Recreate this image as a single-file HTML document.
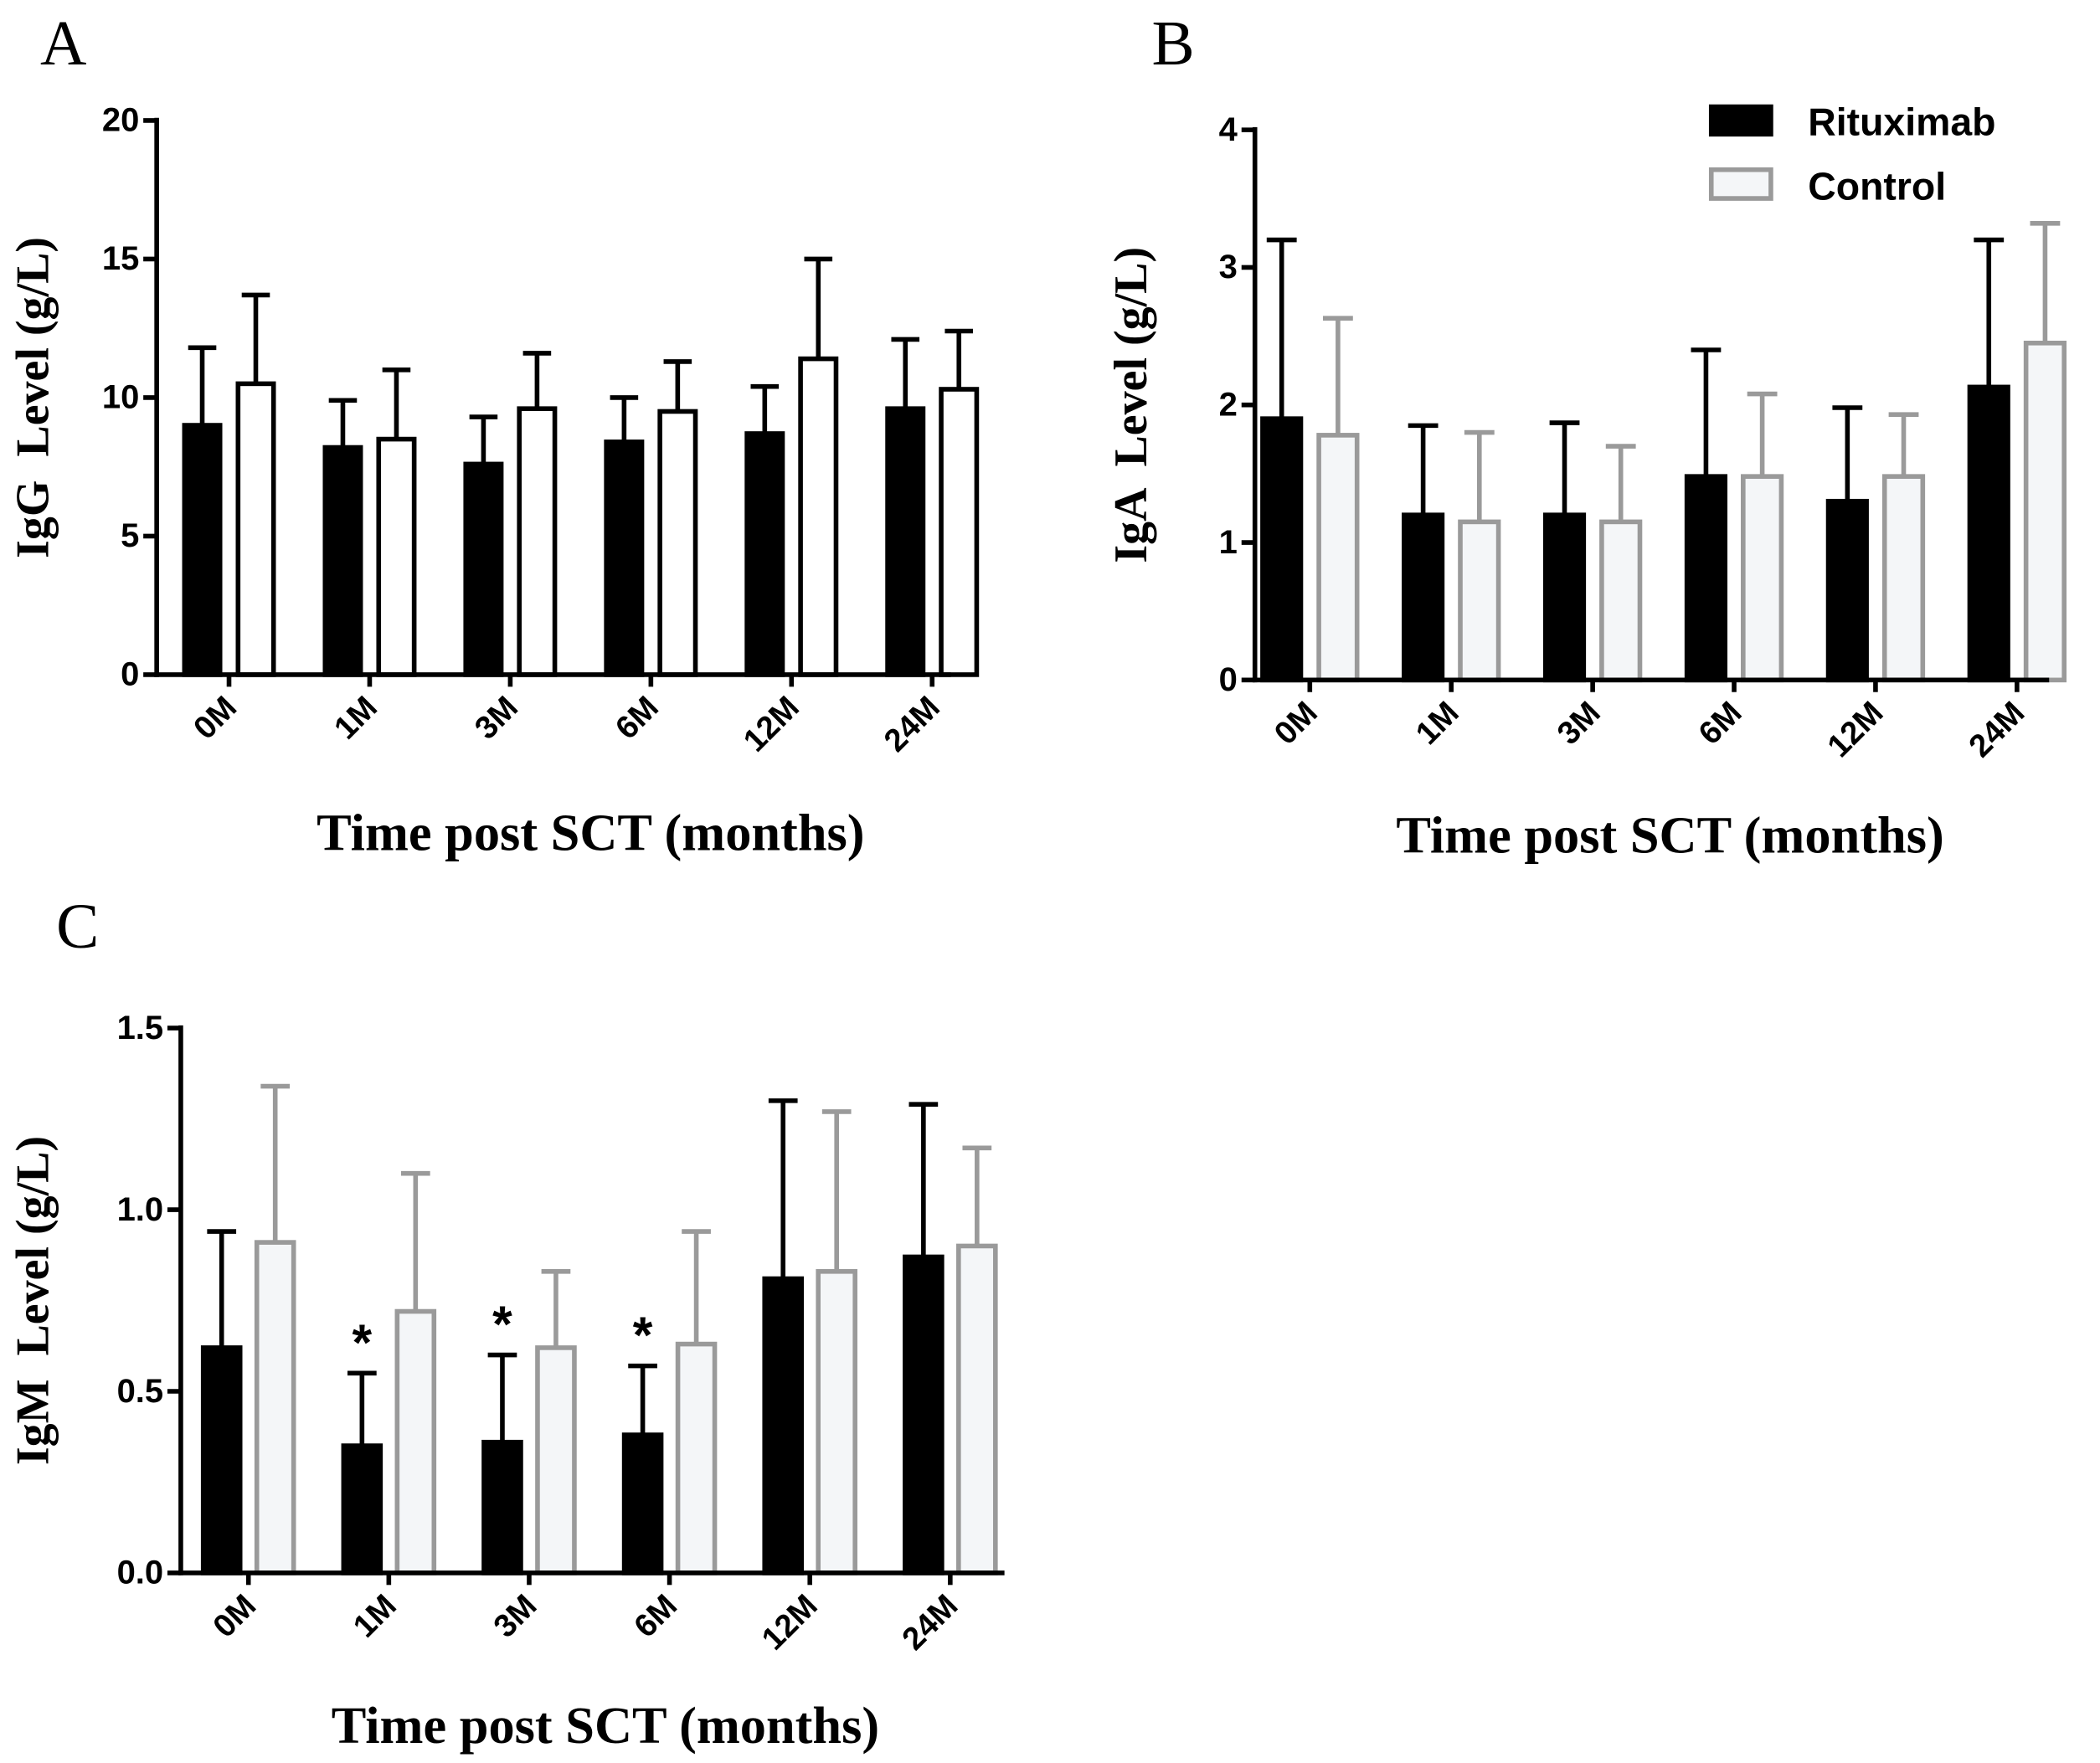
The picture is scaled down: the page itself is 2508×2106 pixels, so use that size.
<!DOCTYPE html>
<html><head><meta charset="utf-8"><style>
html,body{margin:0;padding:0;background:#fff;}
svg{display:block;}
text{white-space:pre;}
</style></head><body>
<svg id="fig" width="2508" height="2106" viewBox="0 0 1568 1317" preserveAspectRatio="none" xmlns="http://www.w3.org/2000/svg"></svg>
<script>
const categories = ["0M","1M","3M","6M","12M","24M"];
const iggRitux = [9.0, 8.2, 7.6, 8.4, 8.7, 9.6];
const iggRituxErr = [11.8, 9.9, 9.3, 10.0, 10.4, 12.1];
const iggCtrl = [10.5, 8.5, 9.6, 9.5, 11.4, 10.3];
const iggCtrlErr = [13.7, 11.0, 11.6, 11.3, 15.0, 12.4];
const igaRitux = [1.9, 1.2, 1.2, 1.48, 1.3, 2.13];
const igaRituxErr = [3.2, 1.85, 1.87, 2.4, 1.98, 3.2];
const igaCtrl = [1.78, 1.15, 1.15, 1.48, 1.48, 2.45];
const igaCtrlErr = [2.63, 1.8, 1.7, 2.08, 1.93, 3.32];
const igmRitux = [0.62, 0.35, 0.36, 0.38, 0.81, 0.87];
const igmRituxErr = [0.94, 0.55, 0.6, 0.57, 1.3, 1.29];
const igmCtrl = [0.91, 0.72, 0.62, 0.63, 0.83, 0.90];
const igmCtrlErr = [1.34, 1.1, 0.83, 0.94, 1.27, 1.17];
const igmStars = [false, true, true, true, false, false];
const iggTicks = [0,5,10,15,20];
const igaTicks = [0,1,2,3,4];
const igmTicks = ["0.0","0.5","1.0","1.5"];

const NS="http://www.w3.org/2000/svg";
const svg=document.getElementById('fig');
function mk(tag,attrs,parent,txt){
  const e=document.createElementNS(NS,tag);
  for(const k in attrs) e.setAttribute(k,attrs[k]);
  if(txt!==undefined) e.textContent=txt;
  (parent||svg).appendChild(e);
  return e;
}
const SW=3.5;
function panel(o){
  const g=mk('g',{});
  
  
  const ymax=o.ymax;
  const y=v=>o.y0-(v/ymax)*(o.y0-o.y1);
  const xg=i=>o.x0+o.first+i*o.step;
  categories.forEach((c,i)=>{
    const bx=xg(i);
    const specs=[[o.r[i],o.re[i],bx,'#000','#000','ritux'],[o.c[i],o.ce[i],bx+o.bw+o.gap,o.cfill,o.cstroke,'control']];
    specs.forEach(s=>{
      const [v,e,x,fill,stroke,nm]=s;
      const cx=x+o.bw/2;
      const l=mk('line',{x1:cx,x2:cx,y1:y(v),y2:y(e),stroke:stroke,'stroke-width':SW},g);
      
      
      const cap=mk('line',{x1:cx-o.bw*0.35,x2:cx+o.bw*0.35,y1:y(e),y2:y(e),stroke:stroke,'stroke-width':SW},g);
      
      
      const r=mk('rect',{x:x+SW/2,y:y(v),width:o.bw-SW,height:o.y0-y(v),fill:fill,stroke:stroke,'stroke-width':SW},g);
      
      
    });
    if(o.stars&&o.stars[i]){
      const s=mk('text',{x:bx+o.bw/2,y:y(o.re[i])-10,'text-anchor':'middle','font-family':'Liberation Sans, sans-serif','font-size':38,'font-weight':'bold'},g,'*');
      
      
    }
    const tx=bx+o.bw+o.gap/2;
    mk('line',{x1:tx,x2:tx,y1:o.y0,y2:o.y0+9,stroke:'#000','stroke-width':SW},g);
    const t=mk('text',{x:tx+7,y:o.y0+26,'text-anchor':'end','font-family':'Liberation Sans, sans-serif','font-size':24,'font-weight':'bold',transform:`rotate(-45 ${tx+7} ${o.y0+26})`},g,c);
    
    
  });
  const ya=mk('line',{x1:o.x0,x2:o.x0,y1:o.y1-2,y2:o.y0+1.75,stroke:'#000','stroke-width':SW},g);
  
  const xa=mk('line',{x1:o.x0-1.75,x2:o.xend,y1:o.y0,y2:o.y0,stroke:'#000','stroke-width':SW},g);
  
  o.ticks.forEach(tk=>{
    const yy=y(parseFloat(tk));
    mk('line',{x1:o.x0-10,x2:o.x0,y1:yy,y2:yy,stroke:'#000','stroke-width':SW},g);
    const t=mk('text',{x:o.x0-13,y:yy+8,'text-anchor':'end','font-family':'Liberation Sans, sans-serif','font-size':25,'font-weight':'bold'},g,String(tk));
    
    
  });
  const yt=mk('text',{x:o.ytx,y:(o.y0+o.y1)/2,'text-anchor':'middle','font-family':'Liberation Serif, serif','font-size':35,'font-weight':'bold',transform:`rotate(-90 ${o.ytx} ${(o.y0+o.y1)/2})`},g,o.ytitle);
  
  const xt=mk('text',{x:o.xtx,y:o.xty,'text-anchor':'middle','font-family':'Liberation Serif, serif','font-size':39,'font-weight':'bold'},g,'Time post SCT (months)');
  
  const pl=mk('text',{x:o.lx,y:o.ly,'font-family':'Liberation Serif, serif','font-size':48},g,o.letter);
  
}
panel({name:'panel-a-igg',x0:117,y0:504,y1:90,ymax:20,xend:710,first:19,step:105,bw:30,gap:10,
  r:iggRitux,re:iggRituxErr,c:iggCtrl,ce:iggCtrlErr,cfill:'#fff',cstroke:'#000',ticks:iggTicks,
  ytitle:'IgG  Level (g/L)',ytx:36,xtx:441,xty:635,letter:'A',lx:30,ly:48});
panel({name:'panel-b-iga',x0:937,y0:508,y1:97,ymax:4,xend:1530,first:4,step:105.6,bw:32,gap:10,
  r:igaRitux,re:igaRituxErr,c:igaCtrl,ce:igaCtrlErr,cfill:'#f4f6f8',cstroke:'#9a9a9a',ticks:igaTicks,
  ytitle:'IgA  Level (g/L)',ytx:856,xtx:1247,xty:637,letter:'B',lx:860,ly:48});
panel({name:'panel-c-igm',x0:135,y0:1175,y1:768,ymax:1.5,xend:750,first:15,step:104.8,bw:31,gap:9,
  r:igmRitux,re:igmRituxErr,c:igmCtrl,ce:igmCtrlErr,cfill:'#f4f6f8',cstroke:'#9a9a9a',ticks:igmTicks,stars:igmStars,
  ytitle:'IgM  Level (g/L)',ytx:36,xtx:452,xty:1302,letter:'C',lx:42,ly:708});
const lg=mk('g',{});


const b1=mk('rect',{x:1276,y:78,width:48,height:24,fill:'#000'},lg);

const t1=mk('text',{x:1350,y:101,'font-family':'Liberation Sans, sans-serif','font-size':29,'font-weight':'bold'},lg,'Rituximab');

const b2=mk('rect',{x:1277.75,y:126.75,width:44.5,height:21.5,fill:'#f4f6f8',stroke:'#9a9a9a','stroke-width':SW},lg);

const t2=mk('text',{x:1350,y:149,'font-family':'Liberation Sans, sans-serif','font-size':29,'font-weight':'bold'},lg,'Control');

</script>
</body></html>
